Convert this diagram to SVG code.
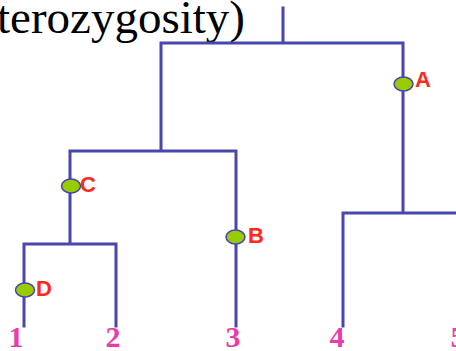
<svg xmlns="http://www.w3.org/2000/svg" width="456" height="351" viewBox="0 0 456 351">
<style>
.ln{stroke:#4747ad;stroke-width:3;fill:none;stroke-linecap:square}
.mk{fill:#99cc00;stroke:#4747ad;stroke-width:1.5}
.lb{font-family:"Liberation Sans",Arial,sans-serif;font-weight:bold;font-size:22px;fill:#ff2a1a}
.num{font-family:"Liberation Serif","Times New Roman",serif;font-weight:bold;font-size:30px;fill:#e83ca8;text-anchor:middle}
.title{font-family:"Liberation Serif","Times New Roman",serif;font-size:47px;fill:#000}
</style>
<rect width="456" height="351" fill="#fff"/>
<text class="title" x="245" y="33" text-anchor="end">terozygosity)</text>
<g id="connectors">
<path class="ln" d="M283,8 V43 M161,43 H403 M161,43 V151 M70,151 H236 M70,151 V244 M24,244 H116 M24,244 V326 M116,244 V326 M236,151 V326 M403,43 V213 M343,213 H457 M343,213 V326"/>
</g>
<g id="A"><ellipse class="mk" cx="403.5" cy="84" rx="9.5" ry="7"/><text class="lb" x="415" y="87">A</text></g>
<g id="B"><ellipse class="mk" cx="235.5" cy="237" rx="9.5" ry="7"/><text class="lb" x="248" y="243">B</text></g>
<g id="C"><ellipse class="mk" cx="71" cy="186" rx="9.5" ry="7"/><text class="lb" x="80" y="192">C</text></g>
<g id="D"><ellipse class="mk" cx="25" cy="290" rx="9.5" ry="7"/><text class="lb" x="36" y="296">D</text></g>
<g id="n1"><text class="num" x="16" y="347">1</text></g>
<g id="n2"><text class="num" x="113" y="347">2</text></g>
<g id="n3"><text class="num" x="233" y="347">3</text></g>
<g id="n4"><text class="num" x="337" y="347">4</text></g>
<g id="n5"><text class="num" x="458" y="347">5</text></g>
</svg>
